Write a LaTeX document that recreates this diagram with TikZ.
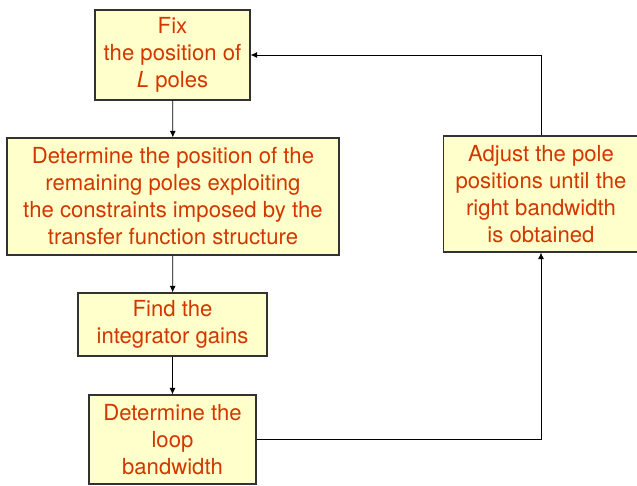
\documentclass[tikz,border=0pt]{standalone}
\usepackage{fontspec}
\setmainfont{TeX Gyre Heros}
\usetikzlibrary{arrows.meta}

\definecolor{boxfill}{RGB}{255,255,204}
\definecolor{boxtext}{RGB}{210,55,0}

\tikzset{
  stepbox/.style={draw={rgb,255:red,50;green,50;blue,50}, line width=0.8pt, fill=boxfill,
    text=boxtext, align=center, inner sep=0pt,
    font=\fontsize{16.6}{20.25}\selectfont},
  flow/.style={draw=black, line width=0.6pt, -{Latex[length=5pt,width=4.5pt]}},
  link/.style={draw=black, line width=0.6pt}
}

\begin{document}
\begin{tikzpicture}[x=0.75pt,y=0.75pt,yscale=-1,xscale=1]
        \useasboundingbox (0,0) rectangle (637,486);

        % Text Node
        \node [stepbox, minimum width=116.25pt, minimum height=67.5pt] (fix) at (172.5,55) {Fix\\the position of\\\textit{L} poles};
        % Text Node
        \node [stepbox, minimum width=249pt, minimum height=87.75pt] (remain) at (173,196.5) {Determine the position of the\\remaining poles exploiting\\the constraints imposed by the\\transfer function structure};
        % Text Node
        \node [stepbox, minimum width=141.75pt, minimum height=47.25pt] (gains) at (172.5,324.5) {Find the\\integrator gains};
        % Text Node
        \node [stepbox, minimum width=125.25pt, minimum height=66.75pt] (loopbw) at (172.5,439.5) {Determine the\\loop\\bandwidth};
        % Text Node
        \node [stepbox, minimum width=146.25pt, minimum height=87pt] (adjust) at (541,194) {Adjust the pole\\positions until the\\right bandwidth\\is obtained};

        % Straight Lines
        \draw [flow] (fix) -- (remain);
        \draw [flow] (remain) -- (gains);
        \draw [flow] (gains) -- (loopbw);
        % feedback path
        \draw [flow] (loopbw.east) -| (adjust.south);
        \draw [flow] (adjust.north) |- (fix.east);
\end{tikzpicture}
\end{document}
